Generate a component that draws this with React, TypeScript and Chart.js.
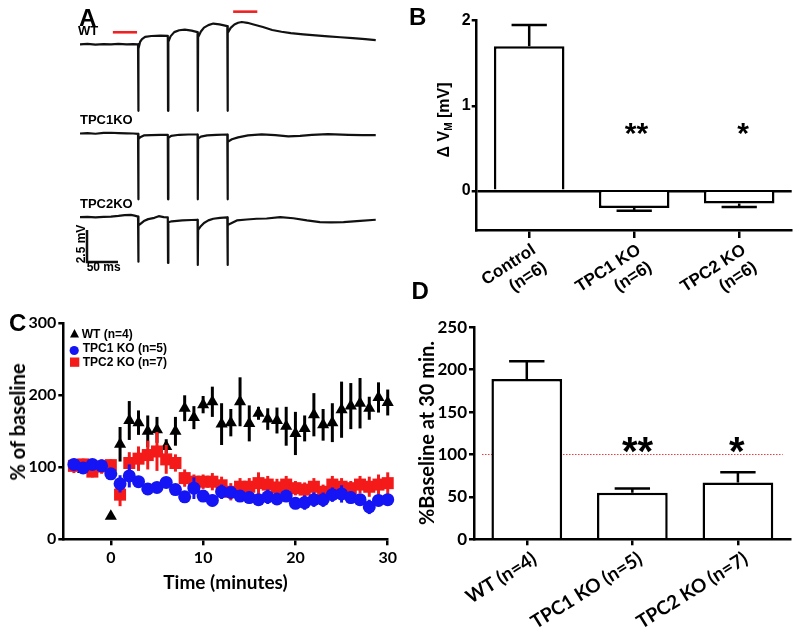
import React, { useEffect, useRef } from 'react';
import { Chart, registerables } from 'chart.js';
Chart.register(...registerables);

const ARIAL = '"Liberation Sans", Arial, sans-serif';
const LATO = 'Lato, "Liberation Sans", sans-serif';
const BLUE = '#1414f5';
const RED = '#f41a1a';

// ---------------- Panel A: membrane potential traces (time ms, mV rel. baseline)
const wtTrace: [number, number][] = [
  [0, 0], [12, 0.03], [25, -0.02], [38, 0.02], [50, 0], [62, 0.03], [75, 0], [86, 0.02], [93.6, 0],
  [94, -5.2], [94.5, -0.35], [97, 0.2], [100, 0.4], [105, 0.58], [115, 0.65], [130, 0.67], [141.6, 0.66],
  [142, -5.2], [142.5, 0.2], [146, 0.62], [152, 0.95], [160, 1.1], [169, 1.15], [180, 1.07], [189.6, 0.95],
  [190, -5.2], [190.5, 0.55], [195, 1.0], [200, 1.3], [207, 1.5], [215, 1.62], [225, 1.56], [237.6, 1.42],
  [238, -5.2], [238.5, 0.88], [243, 1.28], [249, 1.55], [255, 1.68], [261, 1.74], [270, 1.68], [280, 1.55],
  [295, 1.35], [310, 1.12], [325, 0.98], [340, 0.88], [360, 0.78], [380, 0.7], [400, 0.62], [420, 0.55],
  [440, 0.48], [460, 0.4], [477, 0.33],
];
const tpc1Trace: [number, number][] = [
  [0, 0], [12, 0.03], [25, -0.02], [38, 0.05], [50, 0.06], [62, 0.03], [75, 0.01], [86, 0], [93.6, -0.03],
  [94, -5.14], [94.5, -0.45], [97, -0.3], [103, -0.15], [115, -0.12], [130, -0.1], [141.6, -0.1],
  [142, -5.14], [142.5, -0.35], [147, -0.18], [160, -0.1], [175, -0.08], [189.6, -0.08],
  [190, -5.14], [190.5, -0.4], [195, -0.25], [205, -0.15], [220, -0.1], [237.6, -0.08],
  [238, -5.14], [238.5, -0.65], [245, -0.45], [255, -0.3], [271, -0.15], [293, -0.07], [315, -0.12],
  [336, -0.22], [355, -0.18], [374, -0.1], [400, -0.05], [433, -0.1], [455, -0.12], [477, -0.12],
];
const tpc2Trace: [number, number][] = [
  [0, 0], [12, 0.02], [25, -0.02], [38, 0.03], [50, 0.05], [62, 0.1], [72, 0.16], [82, 0.18], [88, 0.12], [93.6, 0.05],
  [94, -3.48], [94.5, -0.65], [98, -0.5], [103, -0.3], [110, -0.15], [120, -0.05], [127, 0.08], [135, 0], [141.6, -0.02],
  [142, -3.58], [142.5, -0.4], [148, -0.32], [165, -0.25], [180, -0.22], [189.6, -0.2],
  [190, -3.73], [190.5, -1.0], [194, -0.75], [200, -0.45], [207, -0.25], [215, -0.12], [226, -0.05], [237.6, -0.02],
  [238, -3.73], [238.5, -0.6], [243, -0.5], [253, -0.25], [269, -0.18], [285, -0.12], [301, -0.1], [323, 0],
  [344, -0.08], [366, -0.25], [387, -0.38], [405, -0.4], [425, -0.38], [452, -0.28], [477, -0.2],
];
const stimBarPre: [number, number][] = [[53, 0.94], [92, 0.94]];
const stimBarPost: [number, number][] = [[247, 2.55], [286, 2.55]];
const scaleBar: [number, number][] = [[11.3, -1.0], [11.3, -3.5], [61.3, -3.5]]; // 2.5 mV, 50 ms

// ---------------- Panel B
const bCats = [['Control', '(n=6)'], ['TPC1 KO', '(n=6)'], ['TPC2 KO', '(n=6)']];
const bMeans = [1.7, -0.2, -0.15];
const bErrs = [0.25, 0.035, 0.04];
const bTicks = [0, 1, 2];

// ---------------- Panel C
const cTimes = [-4, -3, -2, -1, 0, 1, 2, 3, 4, 5, 6, 7, 8, 9, 10, 11, 12, 13, 14, 15, 16, 17, 18, 19, 20, 21, 22, 23, 24, 25, 26, 27, 28, 29, 30];
const wtMean = [100, 97, 102, 100, 32, 132, 165, 162, 150, 152, 129, 150, 182, 169, 187, 191, 160, 162, 191, 161, 175, 167, 165, 157, 147, 154, 173, 159, 162, 180, 185, 189, 182, 197, 190];
const wtErr = [4, 4, 4, 4, 0, 24, 27, 17, 22, 18, 10, 20, 18, 16, 12, 21, 29, 19, 34, 25, 9, 15, 18, 27, 30, 18, 30, 22, 27, 39, 32, 35, 16, 21, 18];
const tpc1Mean = [104, 99, 104, 102, 91, 77, 88, 80, 70, 72, 79, 69, 59, 71, 60, 54, 66, 65, 60, 58, 55, 59, 56, 60, 50, 51, 55, 55, 62, 63, 58, 55, 45, 54, 55];
const tpc1Err = [5, 5, 5, 5, 5, 12, 16, 8, 8, 6, 6, 5, 5, 15, 6, 8, 10, 8, 6, 8, 8, 10, 8, 8, 8, 10, 10, 10, 10, 12, 8, 8, 10, 8, 8];
const tpc2Mean = [102, 104, 94, 101, 103, 62, 106, 112, 117, 122, 111, 106, 85, 80, 80, 80, 75, 66, 73, 73, 78, 76, 72, 76, 71, 69, 73, 66, 76, 73, 71, 76, 73, 76, 78];
const tpc2Err = [10, 8, 8, 10, 8, 16, 15, 17, 20, 27, 20, 12, 12, 10, 10, 12, 12, 12, 12, 12, 15, 12, 12, 12, 10, 10, 12, 10, 12, 12, 10, 12, 14, 14, 15];
const cXTicks = [0, 10, 20, 30];
const cYTicks = [0, 100, 200, 300];

// ---------------- Panel D
const dCats = ['WT (n=4)', 'TPC1 KO (n=5)', 'TPC2 KO (n=7)'];
const dMeans = [189, 55, 67];
const dErrs = [21, 5, 12];
const dTicks = [0, 50, 100, 150, 200, 250];
const dBaseline = 100;

// ---------------- helpers
const MS_PER_PX = 50 / 31;
const PX_PER_MV = 12.8;

const common = {
  animation: false,
  responsive: false,
  devicePixelRatio: 1,
  events: [],
  plugins: { legend: { display: false }, tooltip: { enabled: false } },
};

function traceConfig(series: any[], width: number, top: number, height: number, baseline: number) {
  return {
    type: 'line',
    data: {
      datasets: series.map((s) => ({
        data: s.pts.map(([x, y]: [number, number]) => ({ x, y })),
        borderColor: s.color,
        borderWidth: s.width,
        pointRadius: 0,
        tension: 0,
        fill: false,
        clip: false,
        borderJoinStyle: s.join || 'round',
      })),
    },
    options: {
      ...common,
      layout: { padding: 0 },
      scales: {
        x: { type: 'linear', display: false, min: 0, max: width * MS_PER_PX },
        y: { type: 'linear', display: false, min: -(top + height - baseline) / PX_PER_MV, max: (baseline - top) / PX_PER_MV },
      },
    },
  };
}

const barErrPlugin = {
  id: 'barErr',
  afterDatasetsDraw(chart: any) {
    const ds = chart.data.datasets[0];
    const meta = chart.getDatasetMeta(0);
    const y = chart.scales.y;
    const ctx = chart.ctx;
    ctx.save();
    ctx.strokeStyle = '#000';
    ctx.lineWidth = 2.5;
    meta.data.forEach((bar: any, i: number) => {
      const v = ds.data[i];
      const e = ds.errors[i];
      const dir = v >= 0 ? 1 : -1;
      const y0 = y.getPixelForValue(v);
      const y1 = y.getPixelForValue(v + dir * e);
      const half = bar.width / 4;
      ctx.beginPath();
      ctx.moveTo(bar.x, y0);
      ctx.lineTo(bar.x, y1);
      ctx.moveTo(bar.x - half, y1);
      ctx.lineTo(bar.x + half, y1);
      ctx.stroke();
    });
    ctx.restore();
  },
};

const pointErrPlugin = {
  id: 'pointErr',
  beforeDatasetDraw(chart: any, args: any) {
    const ds = chart.data.datasets[args.index];
    if (!ds.errors) return;
    const y = chart.scales.y;
    const ctx = chart.ctx;
    ctx.save();
    ctx.strokeStyle = ds.borderColor;
    ctx.lineWidth = 3;
    args.meta.data.forEach((pt: any, i: number) => {
      const v = ds.data[i].y;
      const e = ds.errors[i];
      if (!e) return;
      ctx.beginPath();
      ctx.moveTo(pt.x, y.getPixelForValue(v - e));
      ctx.lineTo(pt.x, y.getPixelForValue(v + e));
      ctx.stroke();
    });
    ctx.restore();
  },
};

const refLinePlugin = {
  id: 'refLine',
  beforeDatasetsDraw(chart: any) {
    const y = chart.scales.y.getPixelForValue(dBaseline);
    const a = chart.chartArea;
    const ctx = chart.ctx;
    ctx.save();
    ctx.strokeStyle = '#f03c3c';
    ctx.lineWidth = 1.2;
    ctx.setLineDash([1.5, 1.5]);
    ctx.beginPath();
    ctx.moveTo(a.left + 8, y);
    ctx.lineTo(a.right - 8, y);
    ctx.stroke();
    ctx.restore();
  },
};

function axis(font: string, size: number, tickLen: number, pad: number) {
  return {
    grid: { display: true, drawOnChartArea: false, drawTicks: true, tickLength: tickLen, color: '#000', tickColor: '#000', lineWidth: 2.5 },
    border: { display: true, color: '#000', width: 2.5 },
    ticks: { color: '#000', padding: pad, font: { family: font, size, weight: 'bold' } },
  };
}

function ChartCanvas({ left, top, width, height, build }: any) {
  const ref = useRef<HTMLCanvasElement | null>(null);
  useEffect(() => {
    if (!ref.current) return;
    const chart = new Chart(ref.current, build());
    return () => chart.destroy();
  }, []);
  return (
    <div style={{ position: 'absolute', left, top, width, height }}>
      <canvas ref={ref} width={width} height={height} style={{ width, height, display: 'block' }} />
    </div>
  );
}

function Txt({ x, y, size, fam = 'arial', align = 'left', rot = false, children, color = '#000' }: any) {
  const base: any = {
    position: 'absolute',
    fontFamily: fam === 'arial' ? ARIAL : LATO,
    fontSize: size,
    fontWeight: 700,
    lineHeight: 1,
    whiteSpace: 'nowrap',
    color,
  };
  if (rot) {
    return <div style={{ ...base, left: x, top: y, transform: 'translate(-50%, -50%) rotate(-90deg)' }}>{children}</div>;
  }
  const asc = fam === 'arial' ? 0.847 : 0.887;
  return (
    <div style={{ ...base, left: x, top: y - asc * size, transform: align === 'center' ? 'translateX(-50%)' : undefined }}>
      {children}
    </div>
  );
}

// ---------------- chart builders
const TRACE_LEFT = 80;
const TRACE_W = 298;

const buildWT = () =>
  traceConfig(
    [
      { pts: wtTrace, color: '#111', width: 2.2 },
      { pts: stimBarPre, color: '#ee2222', width: 2.6, join: 'miter' },
      { pts: stimBarPost, color: '#ee2222', width: 2.6, join: 'miter' },
    ],
    TRACE_W, 0, 118, 44.3
  );
const buildT1 = () => traceConfig([{ pts: tpc1Trace, color: '#111', width: 2.2 }], TRACE_W, 118, 88, 133.5);
const buildT2 = () =>
  traceConfig(
    [
      { pts: tpc2Trace, color: '#111', width: 2.2 },
      { pts: scaleBar, color: '#111', width: 2.5, join: 'miter' },
    ],
    TRACE_W, 206, 68, 217.2
  );

const bX = axis(ARIAL, 17, 8, 2);
const buildB = () => ({
  type: 'bar',
  data: {
    labels: bCats,
    datasets: [
      { data: bMeans, errors: bErrs, backgroundColor: '#fff', borderColor: '#000', borderWidth: 2.5, barPercentage: 0.672, categoryPercentage: 1 },
    ],
  },
  options: {
    ...common,
    layout: { padding: { left: 0, top: 20.7, right: 8.3, bottom: 0 } },
    scales: {
      x: {
        ...bX,
        offset: true,
        grid: { ...bX.grid, offset: false },
        ticks: { ...bX.ticks, minRotation: 33, maxRotation: 33, autoSkip: false, labelOffset: 5 },
        afterFit: (s: any) => { s.height = 70; },
      },
      y: {
        ...axis(ARIAL, 16, 5, 1),
        min: -0.46,
        max: 2,
        afterBuildTicks: (s: any) => { s.ticks = bTicks.map((v) => ({ value: v })); },
        grid: {
          drawOnChartArea: true,
          drawTicks: true,
          tickLength: 5,
          lineWidth: 2.5,
          tickColor: '#000',
          color: (c: any) => (c.tick && c.tick.value === 0 ? '#000' : 'rgba(0,0,0,0)'),
        },
        afterFit: (s: any) => { s.width = 76.7; },
      },
    },
  },
  plugins: [barErrPlugin],
});

const buildC = () => ({
  type: 'scatter',
  data: {
    datasets: [
      {
        label: 'TPC1 KO (n=5)', data: cTimes.map((t, i) => ({ x: t, y: tpc1Mean[i] })), errors: tpc1Err,
        pointStyle: 'circle', pointRadius: 6.5, backgroundColor: BLUE, borderColor: BLUE, borderWidth: 0, order: 1, clip: false,
      },
      {
        label: 'TPC2 KO (n=7)', data: cTimes.map((t, i) => ({ x: t, y: tpc2Mean[i] })), errors: tpc2Err,
        pointStyle: 'rect', pointRadius: 8.5, backgroundColor: RED, borderColor: RED, borderWidth: 0, order: 2, clip: false,
      },
      {
        label: 'WT (n=4)', data: cTimes.map((t, i) => ({ x: t, y: wtMean[i] })), errors: wtErr,
        pointStyle: 'triangle', pointRadius: 7, backgroundColor: '#000', borderColor: '#000', borderWidth: 0, order: 3, clip: false,
      },
    ],
  },
  options: {
    ...common,
    layout: { padding: { left: 0, top: 23.3, right: 10.7, bottom: 0 } },
    scales: {
      x: {
        ...axis(LATO, 16, 6, 3),
        type: 'linear', min: -5.15, max: 30,
        afterBuildTicks: (s: any) => { s.ticks = cXTicks.map((v) => ({ value: v })); },
        afterFit: (s: any) => { s.height = 95.7; },
      },
      y: {
        ...axis(LATO, 16, 5, 2),
        type: 'linear', min: 0, max: 300,
        afterBuildTicks: (s: any) => { s.ticks = cYTicks.map((v) => ({ value: v })); },
        afterFit: (s: any) => { s.width = 63.3; },
      },
    },
  },
  plugins: [pointErrPlugin],
});

const dX = axis(LATO, 19, 6, 2);
const buildD = () => ({
  type: 'bar',
  data: {
    labels: dCats,
    datasets: [
      { data: dMeans, errors: dErrs, backgroundColor: '#fff', borderColor: '#000', borderWidth: 2.5, barPercentage: 0.67, categoryPercentage: 1 },
    ],
  },
  options: {
    ...common,
    layout: { padding: { left: 0, top: 27.3, right: 9.3, bottom: 0 } },
    scales: {
      x: {
        ...dX,
        offset: true,
        grid: { ...dX.grid, offset: false },
        ticks: { ...dX.ticks, minRotation: 32, maxRotation: 32, autoSkip: false, labelOffset: 8 },
        afterFit: (s: any) => { s.height = 95.7; },
      },
      y: {
        ...axis(LATO, 17, 5, 2),
        min: 0, max: 250,
        afterBuildTicks: (s: any) => { s.ticks = dTicks.map((v) => ({ value: v })); },
        afterFit: (s: any) => { s.width = 74; },
      },
    },
  },
  plugins: [refLinePlugin, barErrPlugin],
});

function LegendC() {
  return (
    <>
      <svg style={{ position: 'absolute', left: 69, top: 328 }} width={12} height={40}>
        <polygon points="5.5,1 10,9.5 1,9.5" fill="#000" />
        <circle cx={5.2} cy={22.5} r={4.6} fill={BLUE} />
        <rect x={1} y={29.5} width={9.3} height={9.3} fill={RED} />
      </svg>
      <Txt x={81.7} y={337.7} size={12}>WT (n=4)</Txt>
      <Txt x={82.7} y={352.3} size={12}>TPC1 KO (n=5)</Txt>
      <Txt x={82.7} y={366} size={12}>TPC2 KO (n=7)</Txt>
    </>
  );
}

export default function App() {
  return (
    <div style={{ position: 'absolute', left: 0, top: 0, width: 800, height: 635, background: '#fff', overflow: 'hidden' }}>
      {/* Panel A */}
      <ChartCanvas left={TRACE_LEFT} top={0} width={TRACE_W} height={118} build={buildWT} />
      <ChartCanvas left={TRACE_LEFT} top={118} width={TRACE_W} height={88} build={buildT1} />
      <ChartCanvas left={TRACE_LEFT} top={206} width={TRACE_W} height={68} build={buildT2} />
      <Txt x={79} y={26} size={24}>A</Txt>
      <Txt x={78} y={35.5} size={13}>WT</Txt>
      <Txt x={80} y={124.3} size={13}>TPC1KO</Txt>
      <Txt x={80} y={208.3} size={13}>TPC2KO</Txt>
      <Txt x={80.5} y={244} size={12} rot>2.5 mV</Txt>
      <Txt x={86.7} y={271} size={12}>50 ms</Txt>

      {/* Panel B */}
      <ChartCanvas left={400} top={0} width={400} height={300} build={buildB} />
      <Txt x={409} y={25} size={24}>B</Txt>
      <Txt x={443.5} y={120} size={16} rot>
        Δ V<sub style={{ fontSize: 10, verticalAlign: 'baseline', position: 'relative', top: 3 }}>M</sub> [mV]
      </Txt>
      <Txt x={636.5} y={143.6} size={30} align="center">**</Txt>
      <Txt x={743} y={143.6} size={30} align="center">*</Txt>

      {/* Panel C */}
      <ChartCanvas left={0} top={300} width={400} height={335} build={buildC} />
      <Txt x={9} y={331} size={24}>C</Txt>
      <LegendC />
      <Txt x={16.7} y={421.7} size={20} fam="lato" rot>% of baseline</Txt>
      <Txt x={225.5} y={589} size={19} fam="lato" align="center">Time (minutes)</Txt>

      {/* Panel D */}
      <ChartCanvas left={400} top={300} width={400} height={335} build={buildD} />
      <Txt x={411.5} y={299.3} size={24}>D</Txt>
      <Txt x={425.5} y={432.5} size={20} fam="lato" rot>%Baseline at 30 min.</Txt>
      <Txt x={637.5} y={464.8} size={40} align="center">**</Txt>
      <Txt x={736.7} y={464.8} size={40} align="center">*</Txt>
    </div>
  );
}
